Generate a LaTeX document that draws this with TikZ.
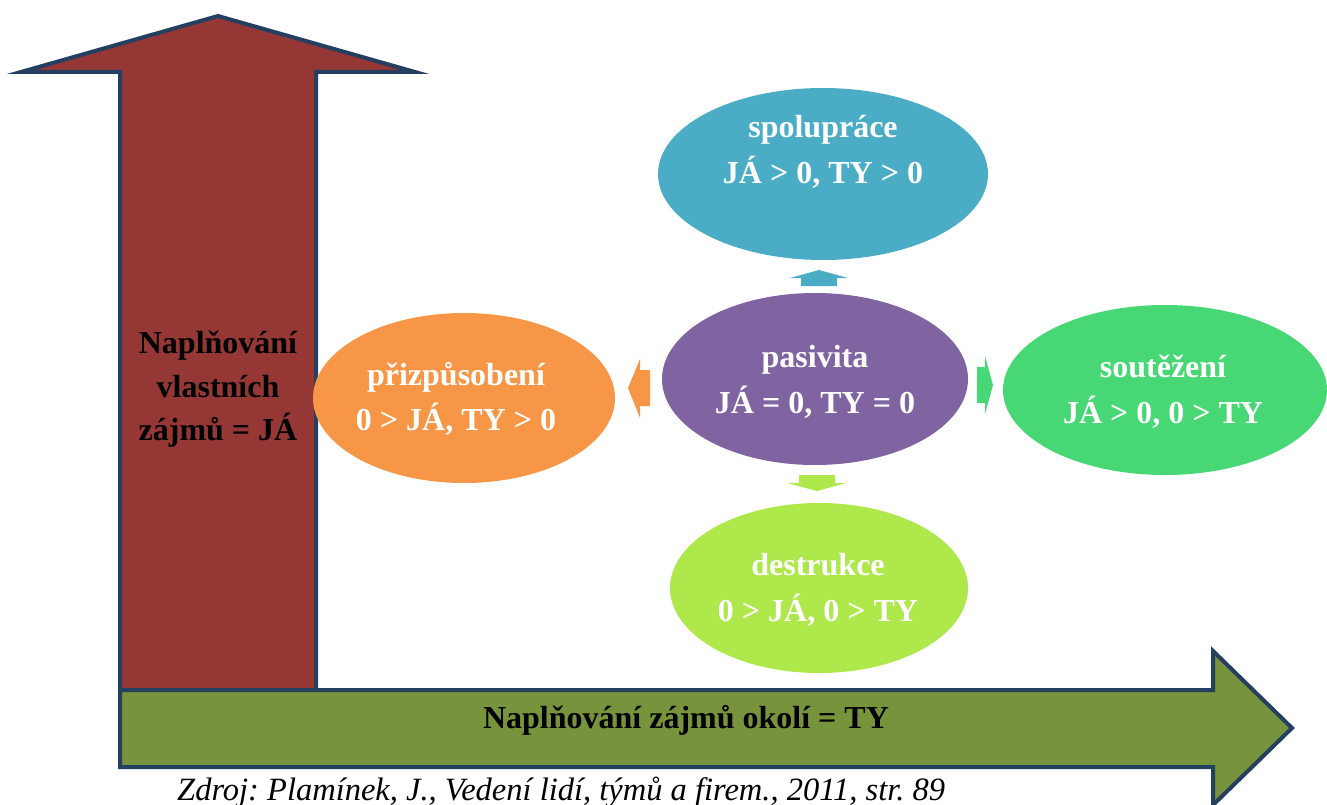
\documentclass[tikz,border=0pt]{standalone}
\usepackage{fontspec}
\setmainfont{Liberation Serif}
\usetikzlibrary{shapes.geometric}
\definecolor{brownA}{HTML}{953735}
\definecolor{greenA}{HTML}{77933C}
\definecolor{borderA}{HTML}{243F60}
\definecolor{coopC}{HTML}{4BACC6}
\definecolor{pasC}{HTML}{8064A2}
\definecolor{adaC}{HTML}{F79646}
\definecolor{compC}{HTML}{48D775}
\definecolor{desC}{HTML}{AEE84A}
\tikzset{
  bigarrow/.style={draw=borderA, line width=4pt, line join=miter},
  oval/.style={ellipse, inner sep=0pt, draw=none},
  wtxt/.style={text=white, font=\fontsize{32}{45}\selectfont\bfseries, anchor=base, inner sep=0pt},
  btxt/.style={text=black, font=\fontsize{32}{45}\selectfont\bfseries, anchor=base, inner sep=0pt},
  captxt/.style={text=black, font=\fontsize{32.5}{38}\selectfont\itshape, anchor=base west, inner sep=0pt}
}
\frenchspacing
\begin{document}
\begin{tikzpicture}[x=1pt,y=-1pt]
\useasboundingbox (0,0) rectangle (1327,805);
% vertical arrow
\draw[bigarrow, fill=brownA] (120,700) -- (120,72) -- (21,72) -- (218,16) -- (415,72) -- (316,72) -- (316,700);
\fill[brownA] (122,690) rectangle (314,702);
% horizontal arrow
\draw[bigarrow, fill=greenA] (120,690) -- (1213,690) -- (1213,651) -- (1292,728) -- (1213,805) -- (1213,767) -- (120,767) -- cycle;
% ellipses
\node[oval, fill=coopC, minimum width=330pt, minimum height=172pt] (coop) at (823,174) {};
\node[oval, fill=pasC, minimum width=306pt, minimum height=172pt] (pas) at (815,379) {};
\node[oval, fill=adaC, minimum width=302pt, minimum height=170pt] (ada) at (464,398) {};
\node[oval, fill=compC, minimum width=324pt, minimum height=170pt] (comp) at (1165,390) {};
\node[oval, fill=desC, minimum width=298pt, minimum height=170pt] (des) at (819,588) {};
% small block arrows
\fill[coopC] (801,286) -- (801,278) -- (790,278) -- (819,270) -- (848,278) -- (837,278) -- (837,286) -- cycle;
\fill[desC] (799,475) -- (799,483) -- (787,483) -- (817,491) -- (846,483) -- (835,483) -- (835,475) -- cycle;
\fill[adaC] (650,370) -- (640,370) -- (640,359) -- (628,388) -- (640,418) -- (640,406) -- (650,406) -- cycle;
\fill[compC] (977,367) -- (985,367) -- (985,356) -- (993,385) -- (985,414) -- (985,403) -- (977,403) -- cycle;
% texts
\node[wtxt] (coop1) at (823,138) {spolupráce};
\node[wtxt] (coop2) at (823,183) {JÁ > 0, TY > 0};
\node[wtxt] (pas1) at (815,367) {pasivita};
\node[wtxt] (pas2) at (815,413) {JÁ = 0, TY = 0};
\node[wtxt] (ada1) at (456,385) {přizpůsobení};
\node[wtxt] (ada2) at (456,430) {0 > JÁ, TY > 0};
\node[wtxt] (comp1) at (1163,377) {soutěžení};
\node[wtxt] (comp2) at (1163,423) {JÁ > 0, 0 > TY};
\node[wtxt] (des1) at (818,575) {destrukce};
\node[wtxt] (des2) at (818,621) {0 > JÁ, 0 > TY};
\node[btxt] (me1) at (218,353) {Naplňování};
\node[btxt] (me2) at (218,397) {vlastních};
\node[btxt] (me3) at (218,440) {zájmů = JÁ};
\node[btxt] (you) at (686,728) {Naplňování zájmů okolí = TY};
\node[captxt] (src) at (177,800) {Zdroj: Plamínek, J., Vedení lidí, týmů a firem., 2011, str. 89};
\end{tikzpicture}
\end{document}
